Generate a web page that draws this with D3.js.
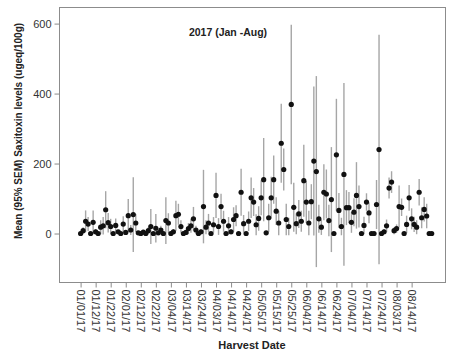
<!DOCTYPE html>
<html>
<head>
<meta charset="utf-8">
<script src="https://cdn.jsdelivr.net/npm/d3@7"></script>
<style>
  html, body { margin: 0; padding: 0; background: #fff; }
  svg { display: block; font-family: "Liberation Sans", Arial, sans-serif; }
</style>
</head>
<body>
<svg id="chart" width="450" height="356"></svg>
<script>
// Harvest dates (one category per sampling day)
const harvestDates = (
  "01/01/17 01/02/17 01/04/17 01/05/17 01/08/17 01/10/17 " +
  "01/12/17 01/13/17 01/15/17 01/17/17 01/18/17 01/19/17 " +
  "01/22/17 01/23/17 01/25/17 01/26/17 01/29/17 01/30/17 " +
  "02/01/17 02/02/17 02/05/17 02/07/17 02/08/17 02/09/17 " +
  "02/12/17 02/13/17 02/15/17 02/16/17 02/19/17 02/20/17 " +
  "02/22/17 02/23/17 02/26/17 02/27/17 03/01/17 03/02/17 " +
  "03/04/17 03/06/17 03/07/17 03/09/17 03/11/17 03/12/17 " +
  "03/14/17 03/15/17 03/17/17 03/19/17 03/21/17 03/22/17 " +
  "03/24/17 03/26/17 03/27/17 03/29/17 03/30/17 04/01/17 " +
  "04/03/17 04/05/17 04/06/17 04/09/17 04/11/17 04/12/17 " +
  "04/14/17 04/16/17 04/17/17 04/19/17 04/20/17 04/23/17 " +
  "04/24/17 04/26/17 04/27/17 04/30/17 05/02/17 05/03/17 " +
  "05/05/17 05/07/17 05/08/17 05/10/17 05/11/17 05/14/17 " +
  "05/15/17 05/17/17 05/18/17 05/21/17 05/22/17 05/23/17 " +
  "05/25/17 05/28/17 05/29/17 05/30/17 06/01/17 06/02/17 " +
  "06/04/17 06/06/17 06/07/17 06/08/17 06/11/17 06/12/17 " +
  "06/14/17 06/15/17 06/18/17 06/19/17 06/21/17 06/22/17 " +
  "06/24/17 06/26/17 06/27/17 06/29/17 07/01/17 07/02/17 " +
  "07/04/17 07/06/17 07/08/17 07/09/17 07/11/17 07/12/17 " +
  "07/14/17 07/16/17 07/17/17 07/19/17 07/20/17 07/23/17 " +
  "07/24/17 07/26/17 07/27/17 07/30/17 07/31/17 08/01/17 " +
  "08/03/17 08/06/17 08/07/17 08/09/17 08/10/17 08/13/17 " +
  "08/14/17 08/16/17 08/17/17 08/20/17 08/21/17 08/23/17 08/24/17 08/27/17 08/28/17"
).split(" ");

// Mean saxitoxin level per harvest date (ugeq/100g)
const meanLevels = [
  0, 8, 35, 27, 0, 32, 5, 0, 18, 22, 68, 31, 20, 0, 23, 5, 0, 27, 3, 51,
  10, 54, 30, 2, 0, 4, 0, 8, 20, 0, 15, 2, 10, 0, 37, 30, 0, 5, 51, 55,
  20, 0, 3, 14, 22, 42, 10, 0, 5, 77, 18, 30, 0, 25, 109, 20, 77, 35, 0, 22,
  5, 40, 51, 0, 118, 28, 0, 35, 102, 90, 25, 43, 102, 154, 2, 45, 102, 154, 64, 30,
  258, 183, 40, 20, 369, 75, 28, 56, 35, 151, 90, 30, 91, 207, 177, 42, 18, 118, 113, 37,
  97, 0, 225, 66, 20, 169, 74, 74, 32, 61, 109, 77, 0, 23, 90, 59, 0, 0, 83, 240,
  0, 5, 22, 130, 147, 8, 14, 77, 75, 0, 26, 102, 42, 26, 18, 118, 45, 69, 50, 0,
  0
];

// Half-width of the 95% interval around each mean
const ciHalfWidth = [
  0, 10, 31, 20, 0, 34, 8, 0, 20, 25, 53, 28, 22, 0, 20, 6, 0, 22, 5, 48,
  14, 107, 26, 4, 0, 6, 0, 10, 50, 0, 41, 4, 12, 0, 67, 28, 0, 8, 43, 30,
  18, 0, 6, 16, 20, 34, 12, 0, 8, 105, 20, 26, 0, 22, 65, 24, 37, 30, 0, 25,
  8, 35, 30, 0, 67, 25, 0, 28, 58, 40, 30, 35, 50, 119, 4, 40, 60, 69, 40, 35,
  113, 60, 45, 25, 228, 70, 30, 40, 30, 103, 60, 35, 50, 213, 273, 40, 22, 80, 70, 45,
  150, 0, 160, 50, 25, 261, 50, 45, 30, 40, 95, 60, 0, 25, 25, 30, 0, 0, 70, 328,
  0, 8, 18, 30, 31, 10, 12, 60, 25, 0, 25, 37, 30, 22, 20, 38, 30, 35, 35, 0,
  0
];

// Axis tick labels
const dateTicks = [
  "01/01/17", "01/12/17", "01/22/17", "02/01/17", "02/12/17", "02/22/17",
  "03/04/17", "03/14/17", "03/24/17", "04/03/17", "04/14/17", "04/24/17",
  "05/05/17", "05/15/17", "05/25/17", "06/04/17", "06/14/17", "06/24/17",
  "07/04/17", "07/14/17", "07/24/17", "08/03/17", "08/14/17"
];
const levelTicks = [0, 200, 400, 600];

const points = harvestDates.map((d, i) => ({
  date: d,
  mean: meanLevels[i],
  lo: meanLevels[i] - ciHalfWidth[i],
  hi: meanLevels[i] + ciHalfWidth[i]
}));

const svg = d3.select("#chart");
const frame = { left: 59.5, right: 445.5, top: 7.5, bottom: 282.5 };

const x = d3.scalePoint()
  .domain(harvestDates)
  .range([80.6, 431.7]);

const y = d3.scaleLinear()
  .domain([-140, 646])
  .range([frame.bottom, frame.top]);

// Plot frame
svg.append("rect")
  .attr("x", frame.left)
  .attr("y", frame.top)
  .attr("width", frame.right - frame.left)
  .attr("height", frame.bottom - frame.top)
  .attr("fill", "#fff")
  .attr("stroke", "#8c8c8c")
  .attr("stroke-width", 1);

// Y axis
const yAxis = svg.append("g")
  .attr("transform", `translate(${frame.left},0)`)
  .call(d3.axisLeft(y).tickValues(levelTicks).tickSize(5).tickPadding(3));
yAxis.select(".domain").remove();
yAxis.selectAll(".tick line").attr("stroke", "#8c8c8c");
yAxis.selectAll(".tick text")
  .attr("fill", "#333")
  .style("font-size", "11px")
  .style("font-family", "Liberation Sans, Arial, sans-serif");

// X axis with vertical date labels
const xAxis = svg.append("g")
  .attr("transform", `translate(0,${frame.bottom})`)
  .call(d3.axisBottom(x).tickValues(dateTicks).tickSize(5).tickPadding(3));
xAxis.select(".domain").remove();
xAxis.selectAll(".tick line").attr("stroke", "#8c8c8c");
xAxis.selectAll(".tick text")
  .attr("fill", "#333")
  .style("font-size", "11px")
  .style("font-family", "Liberation Sans, Arial, sans-serif")
  .attr("text-anchor", "start")
  .attr("x", 0)
  .attr("y", 0)
  .attr("dy", "0.35em")
  .attr("transform", "translate(0,7) rotate(90)");

// Error bars
svg.append("g")
  .selectAll("line")
  .data(points.filter(p => p.hi > p.lo))
  .join("line")
  .attr("x1", p => x(p.date))
  .attr("x2", p => x(p.date))
  .attr("y1", p => y(p.lo))
  .attr("y2", p => y(p.hi))
  .attr("stroke", "#a6a6a6")
  .attr("stroke-width", 1.4);

// Means
svg.append("g")
  .selectAll("circle")
  .data(points)
  .join("circle")
  .attr("cx", p => x(p.date))
  .attr("cy", p => y(p.mean))
  .attr("r", 2.6)
  .attr("fill", "#111");

// Title inside the plot
svg.append("text")
  .attr("x", 228)
  .attr("y", 36)
  .attr("text-anchor", "middle")
  .attr("font-weight", "bold")
  .attr("font-size", 10.5)
  .attr("fill", "#222")
  .text("2017 (Jan -Aug)");

// Axis titles
svg.append("text")
  .attr("transform", "translate(22,131) rotate(-90)")
  .attr("text-anchor", "middle")
  .attr("font-weight", "bold")
  .attr("font-size", 10)
  .attr("fill", "#222")
  .text("Mean (95% SEM) Saxitoxin levels (ugeq/100g)");

svg.append("text")
  .attr("x", 252)
  .attr("y", 349)
  .attr("text-anchor", "middle")
  .attr("font-weight", "bold")
  .attr("font-size", 11)
  .attr("fill", "#222")
  .text("Harvest Date");
</script>
</body>
</html>
